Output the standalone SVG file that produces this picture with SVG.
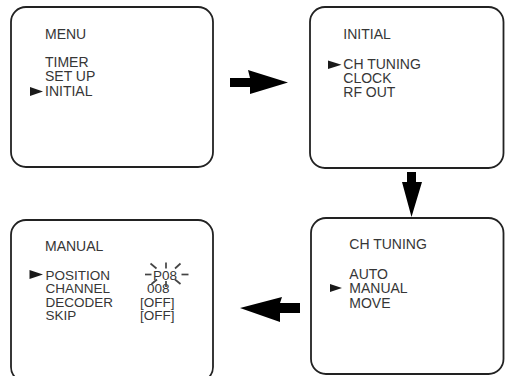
<svg xmlns="http://www.w3.org/2000/svg" width="505" height="376" viewBox="0 0 505 376">
<defs>
<style>
.box{fill:#fff;stroke:#222;stroke-width:1.8}
.t{font-family:"Liberation Sans",Arial,sans-serif;font-size:14px;fill:#363636}
.s{font-size:13.5px}
.ptr{fill:#1a1a1a}
.arr{fill:#000}
.sp{stroke:#444;stroke-width:1.7;stroke-linecap:butt}
</style>
</defs>
<rect width="505" height="376" fill="#fff"/>
<g id="menu">
<rect class="box" x="11" y="7" width="202" height="160" rx="15"/>
<text class="t" x="45" y="38.5">MENU</text>
<text class="t" x="45" y="67">TIMER</text>
<text class="t" x="45" y="81">SET UP</text>
<text class="t" x="45" y="95.5">INITIAL</text>
<polygon class="ptr" points="30,87 30,96 43,91.5"/>
</g>
<g id="initial">
<rect class="box" x="310" y="7" width="193.5" height="161" rx="15"/>
<text class="t" x="343.3" y="39">INITIAL</text>
<text class="t" x="343.3" y="69">CH TUNING</text>
<text class="t" x="343.3" y="83">CLOCK</text>
<text class="t" x="343.3" y="97">RF OUT</text>
<polygon class="ptr" points="328,60.5 328,69 341.5,64.8"/>
</g>
<g id="chtuning">
<rect class="box" x="311" y="218" width="192.5" height="156" rx="15"/>
<text class="t" x="349.3" y="249">CH TUNING</text>
<text class="t" x="349.3" y="278.5">AUTO</text>
<text class="t" x="349.3" y="293">MANUAL</text>
<text class="t" x="349.3" y="307.5">MOVE</text>
<polygon class="ptr" points="330,284 330,292 342,288"/>
</g>
<g id="manual">
<rect class="box" x="11" y="220" width="202" height="162" rx="15"/>
<text class="t" x="45" y="250.7">MANUAL</text>
<text class="t s" x="45.5" y="280">POSITION</text>
<text class="t s" x="45.5" y="293">CHANNEL</text>
<text class="t s" x="45.5" y="306.5">DECODER</text>
<text class="t s" x="45.5" y="319.5">SKIP</text>
<polygon class="ptr" points="29.5,270 29.5,279 43,274.5"/>
<text class="t s" x="153" y="279.5">P08</text>
<text class="t s" x="147" y="293">008</text>
<text class="t s" x="140" y="306.5">[OFF]</text>
<text class="t s" x="140" y="319.5">[OFF]</text>
<g class="sp">
<line x1="145" y1="274.5" x2="151.5" y2="274.5"/>
<line x1="181.5" y1="274.5" x2="188.5" y2="274.5"/>
<line x1="166" y1="262.5" x2="166" y2="268.5"/>
<line x1="150.5" y1="263.5" x2="156.5" y2="268.5"/>
<line x1="180.5" y1="263.5" x2="175" y2="268.5"/>
<line x1="166" y1="281" x2="166" y2="287"/>
<line x1="151.5" y1="284" x2="157" y2="279.5"/>
<line x1="180.5" y1="284" x2="175" y2="279.5"/>
</g>
</g>
<g id="connectors">
<polygon class="arr" points="230,78 250,78 248,70 288,82.5 250,94 250,87 230,87"/>
<polygon class="arr" points="407,172 416,172 416,182 422,182 411.5,217 402,182 407,182"/>
<polygon class="arr" points="300,303 280,303 282,297 240,308 280,322 280,313 300,313"/>
</g>
</svg>
